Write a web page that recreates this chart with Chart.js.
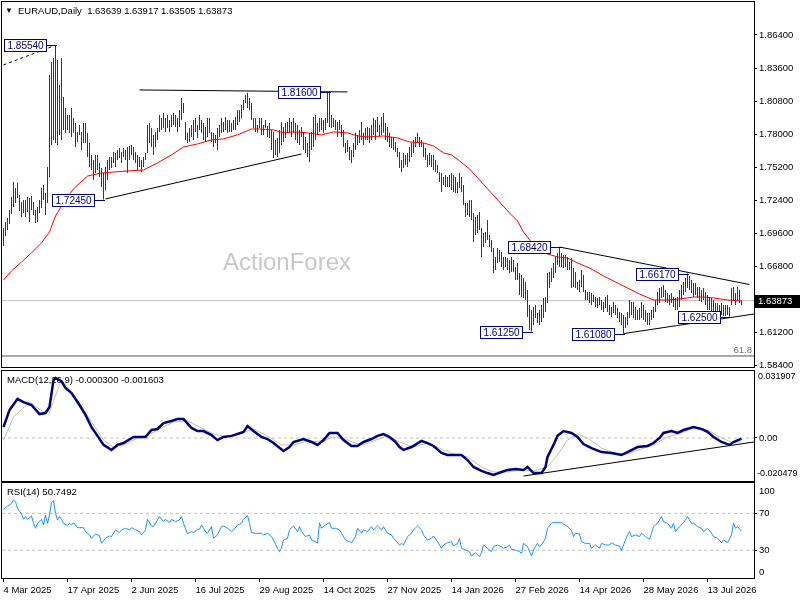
<!DOCTYPE html>
<html>
<head>
<meta charset="utf-8">
<title>EURAUD Daily</title>
<script src="https://cdn.jsdelivr.net/npm/chart.js@4.4.1/dist/chart.umd.min.js"></script>
<style>
  html, body { margin: 0; padding: 0; background: #fff; }
  #board { position: relative; width: 800px; height: 600px; overflow: hidden; background: #fff; }
  #board canvas { position: absolute; left: 0; }
</style>
</head>
<body>
<div id="board">
  <canvas id="priceChart" width="800" height="369" style="top:0px"></canvas>
  <canvas id="macdChart" width="800" height="114" style="top:369px"></canvas>
  <canvas id="rsiChart" width="800" height="119" style="top:481px"></canvas>
</div>
<script>
// ---- data ----
const symbolName = 'EURAUD,Daily';
const lastOhlc = [1.63639, 1.63917, 1.63505, 1.63873];

// daily bars (one per trading day), high / low
const highs = [
  1.7003,1.7054,1.7088,1.7156,1.7267,1.7394,1.7343,1.7386,1.7284,1.7224,
  1.7241,1.7241,1.7267,1.7258,1.7275,1.7224,1.7156,1.7182,1.7241,1.7343,
  1.7369,1.7301,1.7521,1.8301,1.8411,1.8445,1.8554,1.8428,1.8217,1.8445,
  1.8115,1.8021,1.7962,1.7962,1.8021,1.7936,1.7894,1.7818,1.7877,1.7818,
  1.7894,1.7894,1.7810,1.7725,1.7623,1.7580,1.7623,1.7623,1.7555,1.7512,
  1.7470,1.7521,1.7580,1.7606,1.7606,1.7648,1.7640,1.7665,1.7682,1.7648,
  1.7682,1.7665,1.7691,1.7699,1.7708,1.7691,1.7648,1.7623,1.7606,1.7580,
  1.7606,1.7640,1.7877,1.7894,1.7852,1.7793,1.7818,1.7852,1.7962,1.7936,
  1.7979,1.7936,1.7962,1.7919,1.7962,1.7979,1.7962,1.7936,1.8004,1.8106,
  1.8064,1.7902,1.7810,1.7852,1.7877,1.7919,1.7936,1.7877,1.7962,1.7919,
  1.7894,1.7860,1.7936,1.7936,1.7818,1.7810,1.7793,1.7852,1.7877,1.7936,
  1.7902,1.7945,1.7919,1.7919,1.7894,1.7919,1.7945,1.8004,1.8004,1.8046,
  1.8089,1.8131,1.8150,1.8106,1.8064,1.7936,1.7936,1.7877,1.7936,1.7936,
  1.7877,1.7919,1.7868,1.7894,1.7835,1.7818,1.7750,1.7767,1.7835,1.7902,
  1.7860,1.7894,1.7902,1.7936,1.7902,1.7936,1.7894,1.7877,1.7835,1.7860,
  1.7818,1.7776,1.7725,1.7810,1.7818,1.7945,1.7962,1.7894,1.7936,1.7936,
  1.7919,1.7936,1.8148,1.8160,1.7962,1.7936,1.7919,1.7902,1.7919,1.7877,
  1.7835,1.7725,1.7750,1.7691,1.7665,1.7725,1.7810,1.7793,1.7835,1.7902,
  1.7810,1.7852,1.7860,1.7852,1.7877,1.7936,1.7919,1.7945,1.7877,1.7945,
  1.7979,1.7894,1.7860,1.7810,1.7776,1.7776,1.7733,1.7682,1.7648,1.7580,
  1.7640,1.7623,1.7640,1.7691,1.7725,1.7750,1.7776,1.7810,1.7776,1.7750,
  1.7725,1.7682,1.7623,1.7640,1.7623,1.7623,1.7580,1.7538,1.7478,1.7470,
  1.7436,1.7453,1.7436,1.7453,1.7470,1.7453,1.7436,1.7394,1.7470,1.7436,
  1.7369,1.7216,1.7216,1.7241,1.7241,1.7131,1.7097,1.7114,1.7139,1.7003,
  1.6961,1.6970,1.7071,1.6944,1.6902,1.6834,1.6758,1.6834,1.6817,1.6800,
  1.6758,1.6758,1.6749,1.6732,1.6758,1.6732,1.6673,1.6707,1.6622,1.6605,
  1.6580,1.6546,1.6478,1.6350,1.6308,1.6333,1.6350,1.6283,1.6308,1.6350,
  1.6410,1.6418,1.6622,1.6630,1.6664,1.6707,1.6758,1.6792,1.6842,1.6792,
  1.6774,1.6774,1.6758,1.6715,1.6749,1.6664,1.6630,1.6546,1.6563,1.6647,
  1.6605,1.6478,1.6461,1.6461,1.6452,1.6435,1.6418,1.6410,1.6418,1.6393,
  1.6376,1.6418,1.6435,1.6350,1.6333,1.6376,1.6350,1.6325,1.6291,1.6283,
  1.6266,1.6249,1.6291,1.6393,1.6376,1.6376,1.6333,1.6308,1.6325,1.6376,
  1.6350,1.6308,1.6283,1.6283,1.6308,1.6333,1.6393,1.6461,1.6495,1.6503,
  1.6520,1.6478,1.6452,1.6435,1.6452,1.6418,1.6410,1.6418,1.6478,1.6520,
  1.6546,1.6580,1.6617,1.6597,1.6563,1.6537,1.6537,1.6503,1.6503,1.6478,
  1.6495,1.6461,1.6435,1.6418,1.6410,1.6393,1.6367,1.6367,1.6350,1.6367,
  1.6350,1.6350,1.6350,1.6333,1.6495,1.6503,1.6452,1.6503,1.6478,1.63917
];
const lows = [
  1.6851,1.6936,1.6987,1.7037,1.7122,1.7182,1.7216,1.7258,1.7148,1.7097,
  1.7131,1.7097,1.7139,1.7054,1.7156,1.7114,1.7046,1.7054,1.7131,1.7173,
  1.7241,1.7114,1.7216,1.7436,1.7708,1.7750,1.7725,1.7708,1.7793,1.7750,
  1.7835,1.7810,1.7835,1.7810,1.7776,1.7810,1.7691,1.7733,1.7793,1.7665,
  1.7725,1.7725,1.7606,1.7521,1.7495,1.7411,1.7470,1.7495,1.7436,1.7352,
  1.7245,1.7326,1.7411,1.7495,1.7512,1.7555,1.7521,1.7580,1.7597,1.7555,
  1.7606,1.7580,1.7470,1.7580,1.7623,1.7580,1.7555,1.7495,1.7521,1.7478,
  1.7521,1.7580,1.7640,1.7725,1.7691,1.7623,1.7691,1.7750,1.7818,1.7835,
  1.7852,1.7818,1.7852,1.7818,1.7860,1.7877,1.7860,1.7818,1.7860,1.7919,
  1.7979,1.7750,1.7725,1.7733,1.7776,1.7750,1.7818,1.7767,1.7835,1.7810,
  1.7750,1.7733,1.7776,1.7810,1.7733,1.7691,1.7725,1.7665,1.7776,1.7810,
  1.7818,1.7835,1.7810,1.7818,1.7818,1.7835,1.7835,1.7877,1.7902,1.7936,
  1.8004,1.8064,1.8021,1.8004,1.7919,1.7852,1.7818,1.7810,1.7852,1.7793,
  1.7793,1.7852,1.7776,1.7767,1.7665,1.7597,1.7623,1.7606,1.7640,1.7708,
  1.7733,1.7767,1.7810,1.7810,1.7776,1.7810,1.7750,1.7725,1.7708,1.7776,
  1.7665,1.7640,1.7606,1.7563,1.7665,1.7691,1.7750,1.7793,1.7818,1.7835,
  1.7810,1.7835,1.7894,1.7860,1.7852,1.7860,1.7835,1.7776,1.7835,1.7776,
  1.7691,1.7640,1.7648,1.7580,1.7555,1.7606,1.7665,1.7708,1.7725,1.7750,
  1.7708,1.7750,1.7750,1.7725,1.7750,1.7793,1.7750,1.7818,1.7776,1.7793,
  1.7810,1.7750,1.7733,1.7691,1.7682,1.7665,1.7648,1.7606,1.7512,1.7478,
  1.7512,1.7538,1.7521,1.7563,1.7606,1.7640,1.7691,1.7725,1.7691,1.7691,
  1.7606,1.7580,1.7521,1.7538,1.7521,1.7495,1.7478,1.7470,1.7394,1.7309,
  1.7369,1.7352,1.7352,1.7352,1.7326,1.7309,1.7301,1.7301,1.7343,1.7309,
  1.7199,1.7097,1.7114,1.7097,1.7071,1.6885,1.6944,1.6961,1.6987,1.6758,
  1.6843,1.6877,1.6902,1.6843,1.6800,1.6622,1.6647,1.6707,1.6715,1.6673,
  1.6647,1.6673,1.6647,1.6622,1.6630,1.6630,1.6563,1.6563,1.6435,1.6418,
  1.6410,1.6393,1.6249,1.6139,1.6125,1.6181,1.6240,1.6198,1.6181,1.6206,
  1.6240,1.6291,1.6367,1.6495,1.6546,1.6580,1.6622,1.6690,1.6673,1.6673,
  1.6664,1.6673,1.6647,1.6647,1.6495,1.6503,1.6495,1.6478,1.6461,1.6503,
  1.6461,1.6393,1.6393,1.6367,1.6350,1.6376,1.6333,1.6325,1.6350,1.6308,
  1.6291,1.6325,1.6291,1.6266,1.6249,1.6283,1.6266,1.6240,1.6206,1.6181,
  1.6108,1.6156,1.6181,1.6240,1.6266,1.6240,1.6223,1.6223,1.6223,1.6240,
  1.6223,1.6206,1.6181,1.6181,1.6223,1.6240,1.6291,1.6350,1.6367,1.6410,
  1.6418,1.6376,1.6367,1.6350,1.6367,1.6333,1.6308,1.6308,1.6333,1.6393,
  1.6435,1.6461,1.6495,1.6478,1.6452,1.6418,1.6435,1.6410,1.6384,1.6376,
  1.6393,1.6350,1.6308,1.6308,1.6291,1.6283,1.6266,1.6266,1.6266,1.6266,
  1.6257,1.6257,1.6266,1.6250,1.6350,1.6393,1.6350,1.6393,1.6367,1.63505
];

// red moving average, read at these bars
const maBars = [0,4,9,14,19,23,26,30,35,42,49,55,62,70,77,84,90,97,104,110,
  117,124,128,135,140,145,152,159,165,172,177,182,190,197,203,210,215,220,224,228,
  233,238,243,248,253,257,260,265,272,277,282,287,293,300,307,313,318,325,332,338,
  345,350,355,362,369];
const maValues = [1.6563,1.6639,1.6715,1.6792,1.6877,1.6970,1.7105,1.7216,1.7335,1.7444,
  1.7470,1.7478,1.7487,1.7495,1.7555,1.7623,1.7691,1.7716,1.7750,1.7759,
  1.7793,1.7843,1.7843,1.7835,1.7810,1.7818,1.7810,1.7793,1.7818,1.7810,
  1.7784,1.7776,1.7784,1.7767,1.7733,1.7725,1.7699,1.7640,1.7623,1.7572,
  1.7504,1.7411,1.7318,1.7224,1.7131,1.7063,1.6970,1.6859,1.6783,1.6758,
  1.6749,1.6707,1.6664,1.6597,1.6537,1.6486,1.6444,1.6393,1.6393,1.6401,
  1.6418,1.6418,1.6410,1.6393,1.6384];

const priceTicks = [1.864, 1.836, 1.808, 1.780, 1.752, 1.724, 1.696, 1.668, 1.612, 1.584];
const priceMin = 1.58246, priceMax = 1.89198;

// swing high / low labels
const swingBars = [26, 163, 50, 278, 264, 310, 342, 363];
const swingPrices = [1.8554, 1.8160, 1.7245, 1.6842, 1.6125, 1.6108, 1.6617, 1.6250];

// hand-drawn lines: [bar, price] to [bar, price]
const trendLines = [
  { from: [0, 1.8386], to: [24, 1.8540], dash: true },
  { from: [68, 1.8174], to: [172, 1.8157] },
  { from: [51, 1.7250], to: [149, 1.7631] },
  { from: [278, 1.6842], to: [373, 1.6524] },
  { from: [310, 1.6108], to: [375.25, 1.6274] }
];
const fiboLevel = 1.5918;
const fiboLabel = '61.8';

// MACD panel
const macdParams = [12, 26, 9];
const macdLast = [-0.000300, -0.001603];
const macdMax = 0.031907, macdMin = -0.020479;
const macdBars = [0,3,7,10,14,18,21,23,25,26,29,31,34,38,41,44,47,50,54,57,
  60,65,69,71,74,77,80,84,87,90,94,97,100,104,107,110,114,117,120,122,
  125,129,132,135,140,143,145,150,154,157,160,163,167,170,174,177,180,184,187,190,
  193,196,198,200,204,209,212,215,219,222,229,232,235,239,242,245,249,252,256,260,
  262,265,269,271,272,275,277,280,284,287,290,294,299,304,309,312,317,322,325,328,
  330,334,337,340,345,349,352,355,359,363,365,369];
const macdValues = [0.0052,0.0133,0.0186,0.0171,0.0157,0.0114,0.0119,0.0148,0.0276,0.0286,
  0.0271,0.0238,0.0214,0.0157,0.0110,0.0052,0.0010,-0.0033,-0.0057,-0.0033,
  -0.0024,0.0005,0.0005,0.0005,0.0038,0.0043,0.0071,0.0081,0.0090,0.0090,
  0.0048,0.0033,0.0033,0.0014,-0.0010,0.0005,0.0010,0.0019,0.0029,0.0057,
  0.0033,0.0005,-0.0005,-0.0024,-0.0062,-0.0043,-0.0019,-0.0005,-0.0019,-0.0033,
  -0.0010,0.0024,0.0024,-0.0010,-0.0038,-0.0038,-0.0019,-0.0005,0.0010,0.0019,
  0.0005,-0.0019,-0.0043,-0.0057,-0.0043,-0.0014,-0.0024,-0.0038,-0.0071,-0.0081,
  -0.0081,-0.0105,-0.0138,-0.0157,-0.0167,-0.0176,-0.0162,-0.0152,-0.0148,-0.0152,
  -0.0138,-0.0167,-0.0167,-0.0138,-0.0090,-0.0033,0.0010,0.0033,0.0024,0.0005,
  -0.0029,-0.0048,-0.0067,-0.0071,-0.0081,-0.0067,-0.0043,-0.0038,-0.0024,0.0000,
  0.0024,0.0033,0.0024,0.0038,0.0052,0.0043,0.0029,0.0005,-0.0019,-0.0033,
  -0.0019,-0.0003];
const signalBars = [0,5,13,20,23,28,30,37,44,50,55,60,67,72,79,85,92,99,105,112,
  119,125,132,139,145,152,159,165,172,179,185,192,198,205,212,219,225,232,239,245,
  252,259,265,272,277,282,287,292,299,305,312,319,325,332,339,345,352,359,365,369];
const signalValues = [-0.0010,0.0100,0.0171,0.0124,0.0124,0.0252,0.0267,0.0181,0.0076,-0.0010,
  -0.0043,-0.0033,0.0000,0.0014,0.0048,0.0076,0.0081,0.0048,0.0019,0.0005,
  0.0024,0.0043,0.0010,-0.0033,-0.0033,-0.0014,-0.0019,0.0005,-0.0010,-0.0033,
  -0.0014,0.0010,-0.0019,-0.0043,-0.0024,-0.0052,-0.0076,-0.0090,-0.0138,-0.0162,
  -0.0162,-0.0152,-0.0157,-0.0138,-0.0081,-0.0010,0.0019,0.0000,-0.0048,-0.0071,
  -0.0076,-0.0052,-0.0033,0.0005,0.0024,0.0048,0.0038,0.0000,-0.0024,-0.0016];
const macdTrend = [[260, -0.0181], [375.25, -0.0019]];

// RSI panel
const rsiPeriod = 14;
const rsiTop = 102.8;
const rsiLevels = [70, 30];
const rsiBars = [0,2,4,5,6,7,9,10,11,12,14,15,16,17,19,20,21,22,23,24,
  25,26,27,28,29,30,32,33,34,35,37,38,40,41,43,44,46,48,49,51,
  53,54,56,58,59,61,63,64,66,68,69,71,72,74,75,77,78,80,81,83,
  84,86,88,89,90,92,94,95,97,98,99,101,102,104,105,107,109,110,112,114,
  115,117,119,120,122,123,124,126,129,130,132,134,135,137,138,139,140,142,143,145,
  147,148,149,151,153,154,156,157,158,159,161,163,164,166,168,169,171,173,174,176,
  177,179,180,182,184,185,187,189,190,192,194,195,198,199,200,202,204,205,207,209,
  210,212,214,215,217,219,220,222,224,225,227,228,229,231,233,234,236,238,239,240,
  242,244,245,247,249,250,252,253,254,256,258,259,260,262,264,265,267,268,269,271,
  272,274,275,277,279,280,282,284,285,286,288,289,291,293,294,296,298,299,301,303,
  304,306,308,309,310,312,313,314,316,318,319,321,323,324,325,327,329,330,332,334,
  335,336,338,340,341,342,344,345,347,349,350,352,354,355,357,359,360,362,364,365,
  366,367,369];
const rsiValues = [74.3,77.9,80.8,84.4,82.6,75.4,69.3,63.5,66.4,63.5,67.1,59.2,53.8,59.2,63.5,57.4,68.2,59.2,68.2,81.5,
  83.7,70.0,62.8,66.4,63.5,59.2,56.7,59.2,57.4,59.9,54.5,54.5,54.5,50.2,46.6,43.0,47.7,45.9,37.5,43.0,
  45.5,44.8,52.0,49.1,52.0,53.8,52.0,54.5,52.0,50.2,46.6,52.0,63.5,56.3,55.6,62.8,66.4,61.0,63.5,59.9,
  63.5,61.0,62.8,66.4,59.2,47.7,50.2,49.1,52.7,52.7,57.4,50.2,48.4,55.6,43.0,46.6,55.6,56.3,53.8,50.2,
  52.0,57.4,59.2,63.5,67.5,59.2,49.1,48.4,48.4,46.6,48.4,44.8,41.1,32.1,28.5,32.1,41.1,43.0,52.0,56.3,
  50.2,55.6,50.2,44.8,46.6,41.1,39.3,37.5,59.9,53.8,57.4,59.9,53.8,53.8,52.0,48.4,41.1,39.3,38.2,44.8,
  53.8,48.4,52.0,50.2,55.6,52.0,56.3,52.0,55.6,48.4,46.6,43.0,35.7,37.5,35.7,44.8,48.4,52.0,56.3,52.0,
  46.6,41.1,43.0,45.5,39.3,32.1,35.7,38.2,39.3,34.6,37.5,43.0,32.1,30.3,28.5,23.8,27.4,23.1,27.4,35.7,
  32.1,28.5,33.9,35.7,33.9,32.1,33.9,35.7,31.0,30.3,28.5,26.7,37.5,33.9,23.8,30.3,37.5,33.9,35.7,43.0,
  53.8,59.2,60.3,59.9,59.9,58.5,55.6,51.3,44.8,48.4,47.7,39.3,37.5,37.5,32.1,35.7,32.1,37.5,35.7,35.7,
  38.2,35.7,34.6,29.6,35.7,46.6,50.2,44.8,46.6,44.8,48.4,44.8,41.9,48.4,55.6,59.2,66.4,61.0,59.2,53.8,
  59.2,50.2,55.6,59.9,62.8,66.4,59.2,59.2,55.6,53.8,50.2,53.8,48.4,44.8,43.0,38.2,41.1,38.2,46.6,59.2,
  53.8,55.6,50.7492];

// date axis
const dateBars = [0, 32, 64, 96, 128, 160, 192, 224, 256, 288, 320, 352];
const dateLabels = ['4 Mar 2025', '17 Apr 2025', '2 Jun 2025', '16 Jul 2025', '29 Aug 2025', '14 Oct 2025',
  '27 Nov 2025', '14 Jan 2026', '27 Feb 2026', '14 Apr 2026', '28 May 2026', '13 Jul 2026'];

// ---- helpers ----
const FONT = "'Liberation Sans', Arial, sans-serif";
const xMin = -0.75, xMax = 375.25;
const pts = (xs, ys) => xs.map((x, i) => ({ x: x, y: ys[i] }));
const flat = v => [{ x: xMin, y: v }, { x: xMax, y: v }];

function lineSet(data, color, width, dash, order) {
  return { type: 'line', data: data, borderColor: color, borderWidth: width, borderDash: dash || [],
    pointRadius: 0, tension: 0, fill: false, order: order || 1 };
}

function rightAxis(min, max, ticks, fmt) {
  return {
    position: 'right', min: min, max: max,
    afterBuildTicks: s => { s.ticks = ticks.map(v => ({ value: v })); },
    afterFit: s => { s.width = 46; s.paddingTop = 0; s.paddingBottom = 0; },
    ticks: { callback: fmt, color: '#000', padding: 2, font: { family: FONT, size: 9.5 } },
    grid: { drawOnChartArea: false, tickLength: 3, color: '#000' },
    border: { color: '#000' }
  };
}

const hiddenX = { type: 'linear', min: xMin, max: xMax, display: false, offset: false, grid: { offset: false } };

function baseOptions(pad) {
  return {
    responsive: false, animation: false, devicePixelRatio: 1, events: [],
    layout: { padding: pad },
    plugins: { legend: { display: false }, tooltip: { enabled: false } }
  };
}

// black frame round each panel
const framePlugin = {
  id: 'frame',
  afterDraw(chart) {
    const a = chart.chartArea, c = chart.ctx;
    c.save();
    c.strokeStyle = '#000';
    c.lineWidth = 1;
    c.strokeRect(a.left - 0.5, a.top - 0.5, a.right - a.left + 1, a.bottom - a.top + 1);
    c.restore();
  }
};

// title, watermark, swing labels, last price tag
const priceDecor = {
  id: 'priceDecor',
  beforeDatasetsDraw(chart) {
    const c = chart.ctx, a = chart.chartArea, ys = chart.scales.y;
    c.save();
    c.font = '24px ' + FONT;
    c.fillStyle = '#c8c8c8';
    c.textAlign = 'center';
    c.textBaseline = 'middle';
    c.fillText('ActionForex', 287, 263);

    c.fillStyle = '#000';
    c.textAlign = 'left';
    c.font = '8px ' + FONT;
    c.fillText('\u25BC', 5, 11);
    c.font = '9.5px ' + FONT;
    c.fillText(symbolName + '  ' + lastOhlc.map(v => v.toFixed(5)).join(' '), 18, 11);

    c.fillStyle = '#707070';
    c.textAlign = 'right';
    c.fillText(fiboLabel, a.right - 2, ys.getPixelForValue(fiboLevel) - 6);
    c.restore();
  },
  afterDatasetsDraw(chart) {
    const c = chart.ctx, a = chart.chartArea, xs = chart.scales.x, ys = chart.scales.y;
    c.save();
    c.font = '10px ' + FONT;
    c.lineWidth = 1;
    c.textBaseline = 'middle';
    c.textAlign = 'left';
    swingBars.forEach((b, i) => {
      const px = Math.round(xs.getPixelForValue(b));
      const py = Math.round(ys.getPixelForValue(swingPrices[i])) + 0.5;
      const txt = swingPrices[i].toFixed(5);
      const w = Math.ceil(c.measureText(txt).width) + 5;
      const bx = px - 10 - w + 0.5;
      c.strokeStyle = '#000080';
      c.beginPath();
      c.moveTo(px - 10, py);
      c.lineTo(px + 1, py);
      c.stroke();
      c.fillStyle = '#fff';
      c.fillRect(bx, py - 6, w, 12);
      c.strokeRect(bx, py - 6, w, 12);
      c.fillStyle = '#000080';
      c.fillText(txt, bx + 3, py + 0.5);
    });

    const ly = Math.round(ys.getPixelForValue(lastOhlc[3]));
    c.fillStyle = '#000';
    c.fillRect(a.right + 1, ly - 6, 800 - a.right - 1, 13);
    c.fillStyle = '#fff';
    c.font = '9.5px ' + FONT;
    c.fillText(lastOhlc[3].toFixed(5), a.right + 4, ly + 0.5);
    c.restore();
  }
};

// ---- price panel ----
new Chart(document.getElementById('priceChart'), {
  type: 'bar',
  data: {
    datasets: [
      lineSet(flat(lastOhlc[3]), '#c0c0c0', 1, null, 20),
      lineSet(flat(fiboLevel), '#4a5858', 1, null, 19),
      {
        type: 'bar',
        data: highs.map((h, i) => ({ x: i, y: [lows[i], h] })),
        backgroundColor: '#17415f',
        barThickness: 1, borderWidth: 0, inflateAmount: 0, grouped: false,
        order: 10
      },
      lineSet(pts(maBars, maValues), '#ff0000', 1, null, 2),
      ...trendLines.map(t => lineSet(
        [{ x: t.from[0], y: t.from[1] }, { x: t.to[0], y: t.to[1] }],
        '#000', 1, t.dash ? [3, 3] : null, 1))
    ]
  },
  options: Object.assign(baseOptions({ left: 2, top: 2, bottom: 2, right: 0 }), {
    scales: {
      x: hiddenX,
      y: rightAxis(priceMin, priceMax, priceTicks, v => Number(v).toFixed(5))
    }
  }),
  plugins: [priceDecor, framePlugin]
});

// ---- MACD panel ----
const macdDecor = {
  id: 'macdDecor',
  beforeDatasetsDraw(chart) {
    const c = chart.ctx, a = chart.chartArea, ys = chart.scales.y;
    c.save();
    c.font = '9.5px ' + FONT;
    c.fillStyle = '#000';
    c.textAlign = 'left';
    c.textBaseline = 'middle';
    c.fillText('MACD(' + macdParams.join(',') + ') ' + macdLast.map(v => v.toFixed(6)).join(' '), 7, a.top + 9);
    c.font = '9px ' + FONT;
    c.fillText(macdMax.toFixed(6), ys.left + 4, a.top + 6);
    c.fillText(macdMin.toFixed(6), ys.left + 3, a.bottom - 7);
    c.restore();
  }
};

new Chart(document.getElementById('macdChart'), {
  type: 'line',
  data: {
    datasets: [
      lineSet(flat(0), '#c0c0c0', 1, [3, 3], 10),
      lineSet(pts(signalBars, signalValues), '#c0c0c0', 1, null, 5),
      lineSet(pts(macdBars, macdValues), '#000080', 2.5, null, 3),
      lineSet([{ x: macdTrend[0][0], y: macdTrend[0][1] }, { x: macdTrend[1][0], y: macdTrend[1][1] }], '#000', 1, null, 1)
    ]
  },
  options: Object.assign(baseOptions({ left: 2, top: 2, bottom: 2, right: 0 }), {
    scales: {
      x: hiddenX,
      y: rightAxis(macdMin, macdMax, [0], () => '0.00')
    }
  }),
  plugins: [macdDecor, framePlugin]
});

// ---- RSI panel ----
const rsiDecor = {
  id: 'rsiDecor',
  beforeDatasetsDraw(chart) {
    const c = chart.ctx, a = chart.chartArea, ys = chart.scales.y;
    c.save();
    c.font = '9.5px ' + FONT;
    c.fillStyle = '#000';
    c.textAlign = 'left';
    c.textBaseline = 'middle';
    c.fillText('RSI(' + rsiPeriod + ') ' + rsiValues[rsiValues.length - 1].toFixed(4), 7, a.top + 9);
    c.fillText('100', ys.left + 5, a.top + 8);
    c.fillText('0', ys.left + 5, a.bottom - 6);
    c.restore();
  }
};

new Chart(document.getElementById('rsiChart'), {
  type: 'line',
  data: {
    datasets: [
      ...rsiLevels.map(v => lineSet(flat(v), '#c0c0c0', 1, [3, 3], 10)),
      lineSet(pts(rsiBars, rsiValues), '#1e90ff', 1, null, 1)
    ]
  },
  options: Object.assign(baseOptions({ left: 2, top: 2, bottom: 0, right: 0 }), {
    scales: {
      x: {
        type: 'linear', min: xMin, max: xMax, position: 'bottom', offset: false,
        afterBuildTicks: s => { s.ticks = dateBars.map(v => ({ value: v })); },
        afterFit: s => { s.height = 22; s.paddingLeft = 0; s.paddingRight = 0; },
        ticks: {
          callback: (v, i) => dateLabels[i],
          align: 'start', maxRotation: 0, autoSkip: false, padding: 3,
          color: '#000', font: { family: FONT, size: 9.5 }
        },
        grid: { drawOnChartArea: false, tickLength: 4, color: '#000', offset: false },
        border: { color: '#000' }
      },
      y: rightAxis(0, rsiTop, rsiLevels, v => String(v))
    }
  }),
  plugins: [rsiDecor, framePlugin]
});
</script>
</body>
</html>
